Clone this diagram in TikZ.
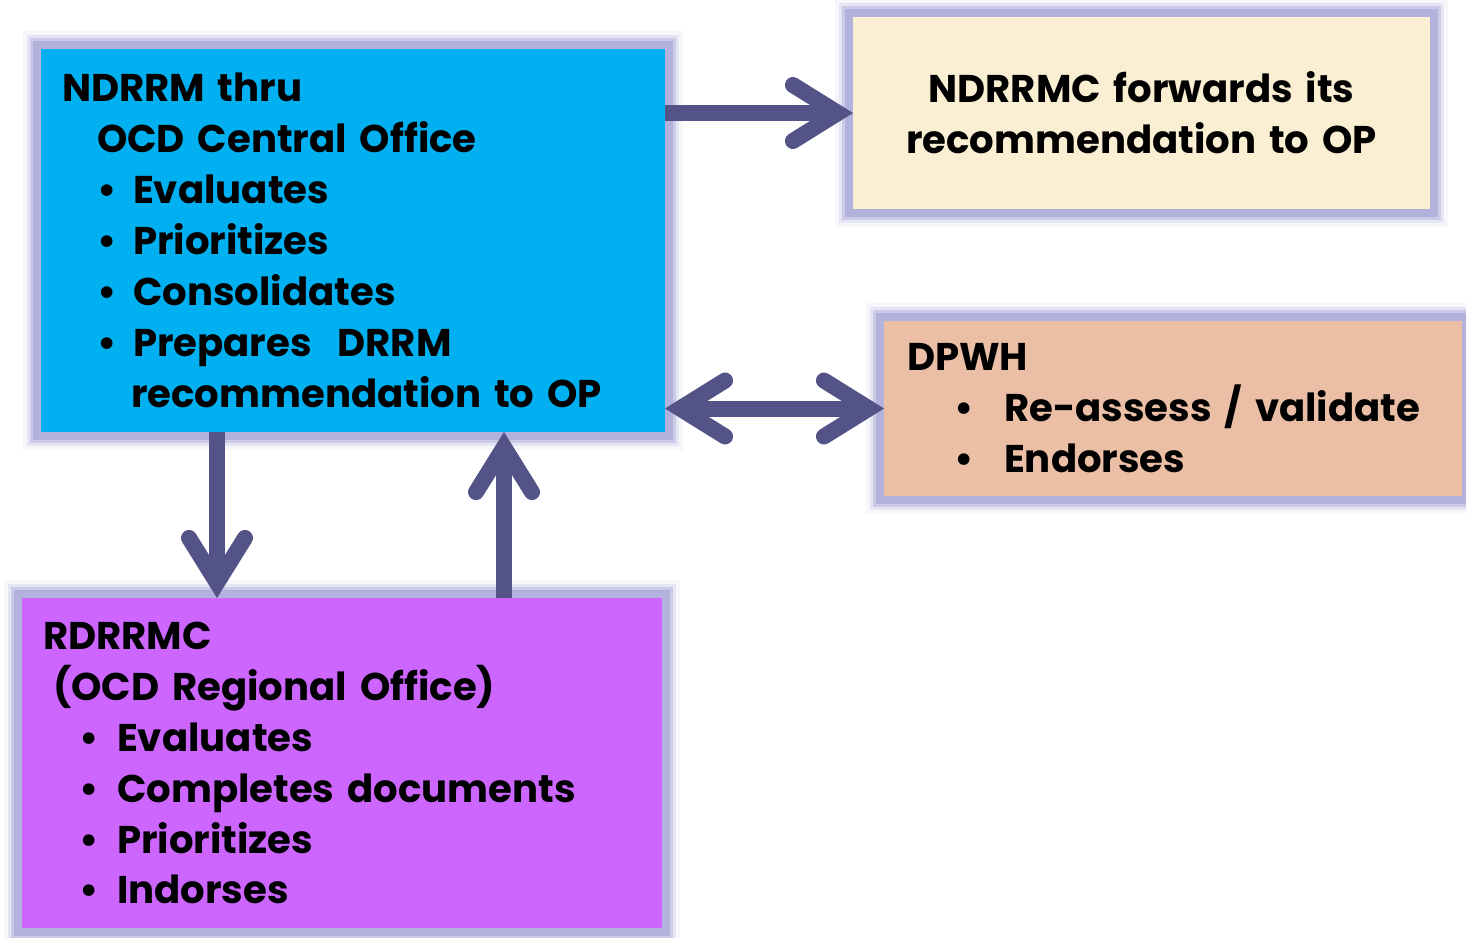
\documentclass[tikz,border=0pt]{standalone}
\usepackage{fontspec}
\setmainfont{Poppins}
\usetikzlibrary{arrows.meta}

\definecolor{ocdblue}{HTML}{00B0F0}
\definecolor{parchment}{HTML}{FBEFD3}
\definecolor{peach}{HTML}{EBBFA6}
\definecolor{violet}{HTML}{CC66FF}
\definecolor{halo}{HTML}{B2B2DC}
\definecolor{flowc}{HTML}{535388}

% bullet line: text indent, gap after bullet, text
\newcommand{\bul}[3]{\hspace*{#1}\llap{\textbullet\hspace{#2}}#3}

\tikzset{
  box/.style={rectangle, outer sep=0pt, inner ysep=0pt,
    font=\bfseries\fontsize{22}{29}\selectfont,
    preaction={draw=halo, draw opacity=0.12, line width=0.72cm},
    preaction={draw=halo, draw opacity=0.25, line width=0.58cm},
    preaction={draw=halo, draw opacity=0.5, line width=0.46cm},
    preaction={draw=halo, line width=0.34cm}},
  flow/.style={line width=0.32cm, draw=flowc,
    >={Straight Barb[length=0.9cm,width=1.12cm,line cap=round,line join=miter]}}
}

\begin{document}
\begin{tikzpicture}[x=0.02cm,y=-0.02cm]
\useasboundingbox (0,0) rectangle (1466,937);

\draw (353,240.5) node(BLUE)[box,fill=ocdblue,minimum width=12.48cm,minimum height=7.66cm,
  inner xsep=0.42cm,text width=11.64cm,align=left]{%
NDRRM thru\\
\hspace*{0.7cm}OCD Central Office\\
\bul{1.42cm}{0.32cm}{Evaluates}\\
\bul{1.42cm}{0.32cm}{Prioritizes}\\
\bul{1.42cm}{0.32cm}{Consolidates}\\
\bul{1.42cm}{0.32cm}{Prepares~ DRRM}\\
\hspace*{1.38cm}recommendation to OP};

\draw (1141.5,113) node(FWD)[box,fill=parchment,minimum width=11.54cm,minimum height=3.84cm,
  inner xsep=0.3cm,text width=10.94cm,align=center]{%
NDRRMC forwards its\\
recommendation to OP};

\draw (1173,408.5) node(DPWH)[box,fill=peach,minimum width=11.56cm,minimum height=3.5cm,
  inner xsep=0.46cm,text width=10.64cm,align=left]{%
DPWH\\
\bul{1.94cm}{0.6cm}{Re-assess / validate}\\
\bul{1.94cm}{0.6cm}{Endorses}};

\draw (342,763) node(REG)[box,fill=violet,minimum width=12.8cm,minimum height=6.6cm,
  inner xsep=0.42cm,text width=11.96cm,align=left]{%
RDRRMC\\
\hspace*{0.2cm}(OCD Regional Office)\\
\bul{1.48cm}{0.36cm}{Evaluates}\\
\bul{1.48cm}{0.36cm}{Completes documents}\\
\bul{1.48cm}{0.36cm}{Prioritizes}\\
\bul{1.48cm}{0.36cm}{Indorses}};

\coordinate (DNX) at (217,0);
\coordinate (UPX) at (504,0);

\draw[flow,->] (BLUE.east |- FWD.west) -- (FWD.west);
\draw[flow,<->] (BLUE.east |- DPWH.west) -- (DPWH.west);
\draw[flow,->] (BLUE.south -| DNX) -- (REG.north -| DNX);
\draw[flow,->] (REG.north -| UPX) -- (BLUE.south -| UPX);

\end{tikzpicture}
\end{document}
